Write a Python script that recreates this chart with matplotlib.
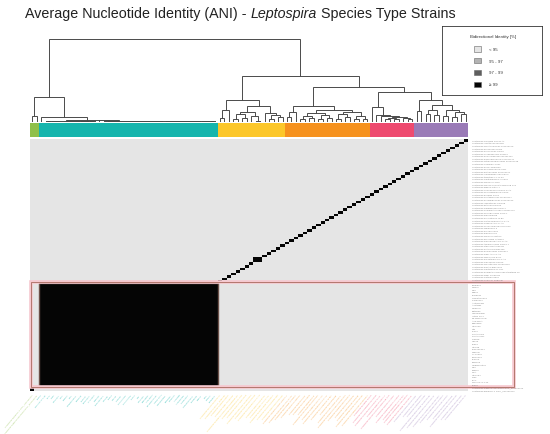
import matplotlib
matplotlib.use("Agg")
import matplotlib.pyplot as plt
from matplotlib.colors import ListedColormap, BoundaryNorm
from matplotlib.patches import Rectangle
import numpy as np

plt.rcParams["font.family"] = ["Liberation Sans", "DejaVu Sans"]

# ---- data -------------------------------------------------------------
CLUSTER_SIZES = [2, 40, 15, 19, 10, 12]
CLUSTER_COLORS = ["#8fc04a", "#16b5ad", "#fcc72a", "#f6921e", "#ee4a6f", "#9a7bb7"]

# dendrogram (leaf = x, merge height after ")")
GREEN_TREE = "(x,x)6"
TEAL_TREE = ("(x,((((x,x)0.1,(x,x)0.1)0.2,(((x,x)0.1,(x,x)0.15)0.2,((x,x)0.1,(x,x)0.1)0.25)0.3)0.4,"
             "(x,(x,(x,((((x,x)0.1,(x,x)0.1)0.2,(((x,x)0.1,(x,x)0.1)0.15,((x,x)0.1,(x,x)0.1)0.2)0.3)0.35,"
             "(((x,x)0.1,(x,x)0.15)0.2,(((x,x)0.1,(x,x)0.1)0.2,((x,x)0.1,(x,x)0.1)0.2)0.3)0.4)0.45)0.5)0.6)0.7)0.9)5")
YELLOW_TREE = "(((x,x)4,x)13,((((x,x)3,(x,x)4)8,(x,(x,x)0.5)6)11,(x,((x,x)3,(x,x)5)7)10)18)26"
ORANGE_TREE = ("(((x,x)5,x)11,((((x,x)3,(x,x)4)6,((x,x)2,(x,x)4)7)10,"
               "(((x,x)3,(x,x)5)8,((x,x)2,(x,x)3)6)11)14)18")
PINK_TREE = "(x,(x,(x,(((x,x)2,(x,x)3)4,(x,(x,x)2)3.5)5)6)7)17"
PURPLE_TREE = "((x,x)12,(((x,x)8,(x,x)7)14,((x,x)6,((x,x)5,(x,x)8)11)13)20)26"
TREE = ("((" + GREEN_TREE + "," + TEAL_TREE + ")29,(" + YELLOW_TREE + ",(" + ORANGE_TREE
        + ",(" + PINK_TREE + "," + PURPLE_TREE + ")35)41)55)100")

# blocks of genomes with >= 99 % identity (start, end), besides the diagonal
HIGH_ID_BLOCKS = [(2, 42), (50, 52)]

LEGEND_LABELS = ["< 95", "95 - 97", "97 - 99", "\u2265 99"]
LEGEND_COLORS = ["#e5e5e5", "#b3b3b3", "#5e5e5e", "#050505"]

GREEN_LABELS = ["Leptospira idonii Eri-1 GCF_000000001", "Leptospira ellinghausenii E18 GCF_000000002"]
TEAL_LABELS = ["56601", "Fiocruz L1-130", "IPAV", "L495", "HAI1594", "RGA", "Verdun", "M20",
               "Hardjoprajitno", "Pomona", "LT2050", "FPW2026", "UI 12621", "Salinem",
               "2006001854", "HAI188", "L0996", "UT126", "CUDO8", "FMAS KW1", "FMAS PD2",
               "L1207", "Kito", "HAI1536", "Babudieri", "Akiyami A", "UP-MMC-NIID",
               "Ictero No.1", "Hebdomadis", "Bataviae", "Canicola", "Australis", "Autumnalis",
               "Pyrogenes", "Grippotyphosa", "Djasiman", "Sejroe", "Mini", "Sarmin", "Javanica"]
SPECIES_LABELS = [
    "Leptospira kirschneri 3522 C", "Leptospira noguchii Noguchi", "Leptospira alstonii 79601",
    "Leptospira weilii Celledoni", "Leptospira borgpetersenii Veldrat Batavia 46",
    "Leptospira santarosai LT 821", "Leptospira kmetyi Bejo-Iso9", "Leptospira mayottensis 200901116",
    "Leptospira alexanderi HS616", "Leptospira barantonii FH4-C-A1", "Leptospira adleri FH2-B-C1",
    "Leptospira ellisii ATI7-C-A2", "Leptospira gomenensis KG8-B22", "Leptospira putramalaysiae M9",
    "Leptospira stimsonii AMB6-RJ",
    "Leptospira tipperaryensis GWTS 1", "Leptospira dzianensis ATI7-C-A5", "Leptospira licerasiae VAR010",
    "Leptospira wolffii Khorat-H2", "Leptospira inadai Lyme", "Leptospira broomii 5399",
    "Leptospira fainei BUT 6", "Leptospira venezuelensis CLM-U50", "Leptospira haakeii ATI7-C-A3",
    "Leptospira hartskeerlii MCA1-C-A1", "Leptospira perolatii FH1-B-B1", "Leptospira johnsonii E8",
    "Leptospira selangorensis SCW-1", "Leptospira andrefontaineae 201800273",
    "Leptospira sarikeiensis ISCW-1", "Leptospira fletcheri SSW15", "Leptospira langatensis SSW18",
    "Leptospira koniamboensis 201800265", "Leptospira saintgironsiae 201601117",
    "Leptospira fluminis SCS5", "Leptospira semungkisensis SSS9", "Leptospira neocaledonica ES4-C-A1",
    "Leptospira biflexa Patoc 1", "Leptospira meyeri Veldrat Semarang 173", "Leptospira wolbachii CDC",
    "Leptospira vanthielii WaZ Holland", "Leptospira terpstrae LT 11-33", "Leptospira yanagawae Sao Paulo",
    "Leptospira ilyithenensis 201400974",
    "Leptospira kemamanensis SW1", "Leptospira kobayashii E30", "Leptospira ryugenii YH101",
    "Leptospira mtsangambouensis 201601298", "Leptospira bandrabouensis 201601111",
    "Leptospira bouyouniensis 201601297", "Leptospira congkakensis SSW20", "Leptospira perdikensis SSW1",
    "Leptospira jelokensis SSW5", "Leptospira montravelensis 201800279", "Leptospira levettii 201602228",
    "Leptospira harrisiae FH2-B-A1"]
LEAF_LABELS = GREEN_LABELS + TEAL_LABELS + SPECIES_LABELS


def parse_tree(s):
    pos = 0
    count = 0

    def node():
        nonlocal pos, count
        if s[pos] == "x":
            pos += 1
            count += 1
            return count - 1
        pos += 1
        left = node()
        pos += 1
        right = node()
        pos += 1
        j = pos
        while j < len(s) and (s[j].isdigit() or s[j] == "."):
            j += 1
        h = float(s[pos:j])
        pos = j
        return (h, left, right)

    return node()


def draw_tree(ax, nd):
    if isinstance(nd, int):
        return nd + 0.5, 0.0
    h, l, r = nd
    xl, hl = draw_tree(ax, l)
    xr, hr = draw_tree(ax, r)
    ax.plot([xl, xl, xr, xr], [hl, h, h, hr], color="#4a4a4a", lw=0.7,
            solid_joinstyle="miter", clip_on=False)
    return (xl + xr) / 2, h


W, H = 550, 435
fig = plt.figure(figsize=(W / 100, H / 100), dpi=100)


def fx(px):
    return px / W


def fy(py):
    return 1 - py / H


N = sum(CLUSTER_SIZES)
leaf_colors = []
for size, col in zip(CLUSTER_SIZES, CLUSTER_COLORS):
    leaf_colors += [col] * size

# dendrogram
ax_den = fig.add_axes([fx(30), fy(122), 438 / W, 82 / H])
draw_tree(ax_den, parse_tree(TREE))
ax_den.set_xlim(0, N)
ax_den.set_ylim(0, 100)
ax_den.axis("off")

# cluster colour strip
ax_bar = fig.add_axes([fx(30), fy(137.5), 438 / W, 13.5 / H])
ax_bar.bar(np.arange(N) + 0.5, 1, width=1.0, color=leaf_colors, linewidth=0)
ax_bar.set_xlim(0, N)
ax_bar.set_ylim(0, 1)
ax_bar.axis("off")

# heatmap
cat = np.zeros((N, N))
for a, b in HIGH_ID_BLOCKS:
    cat[a:b, a:b] = 3
np.fill_diagonal(cat, 3)

ax_hm = fig.add_axes([fx(30), fy(392), 438 / W, 252 / H])
cmap = ListedColormap(LEGEND_COLORS)
norm = BoundaryNorm([-0.5, 0.5, 1.5, 2.5, 3.5], 4)
ax_hm.pcolormesh(np.arange(N + 1), np.arange(N + 1), cat, cmap=cmap, norm=norm,
                 edgecolors="none", antialiased=False)
ax_hm.set_xlim(0, N)
ax_hm.set_ylim(0, N)
ax_hm.axis("off")

for i, lab in enumerate(LEAF_LABELS):
    ax_hm.text(N + 0.9, i + 0.5, lab, fontsize=1.7, color="#8a8a8a",
               ha="left", va="center")
    ax_hm.text(i + 0.5, -1.0, lab, fontsize=1.7, color=leaf_colors[i], alpha=0.75,
               rotation=50, rotation_mode="anchor", ha="right", va="top")

# highlight of the big >=99 % group
ax_hm.add_patch(Rectangle((2, 2), 40, 40, fill=False, edgecolor="#6b5048", lw=1.0))
ax_hm.add_patch(Rectangle((0.2, 1.5), 108.0, 40.9, fill=False, edgecolor="#f6c8cf",
                          lw=2.6, clip_on=False))
ax_hm.add_patch(Rectangle((0.2, 1.5), 108.0, 40.9, fill=False, edgecolor="#a86a5e",
                          lw=0.6, clip_on=False))

# legend
ax_leg = fig.add_axes([fx(442), fy(96), 100 / W, 69 / H])
ax_leg.set_xlim(442, 542)
ax_leg.set_ylim(96, 27)
ax_leg.set_xticks([])
ax_leg.set_yticks([])
for sp in ax_leg.spines.values():
    sp.set_linewidth(0.6)
    sp.set_color("#333333")
ax_leg.text(493, 37, "Bidirectional Identity [%]", fontsize=3.2, ha="center", va="center",
            color="#333333")
for k, (lab, col) in enumerate(zip(LEGEND_LABELS, LEGEND_COLORS)):
    yc = 50 + 11.7 * k
    ax_leg.add_patch(Rectangle((474, yc - 2.6), 7, 5.2, facecolor=col,
                               edgecolor="#666666", lw=0.4))
    ax_leg.text(489, yc, lab, fontsize=3.2, va="center", ha="left", color="#333333")

# title with italic genus
t1 = fig.text(fx(25), fy(18), "Average Nucleotide Identity (ANI) - ", fontsize=10.3,
              va="baseline", color="#222222")
fig.canvas.draw()
x1 = t1.get_window_extent().x1
t2 = fig.text(x1 / W, fy(18), "Leptospira", fontsize=10.3, style="italic",
              va="baseline", color="#222222")
fig.canvas.draw()
x2 = t2.get_window_extent().x1
fig.text(x2 / W, fy(18), " Species Type Strains", fontsize=10.3, va="baseline",
         color="#222222")

fig.savefig("out.png", dpi=100)
